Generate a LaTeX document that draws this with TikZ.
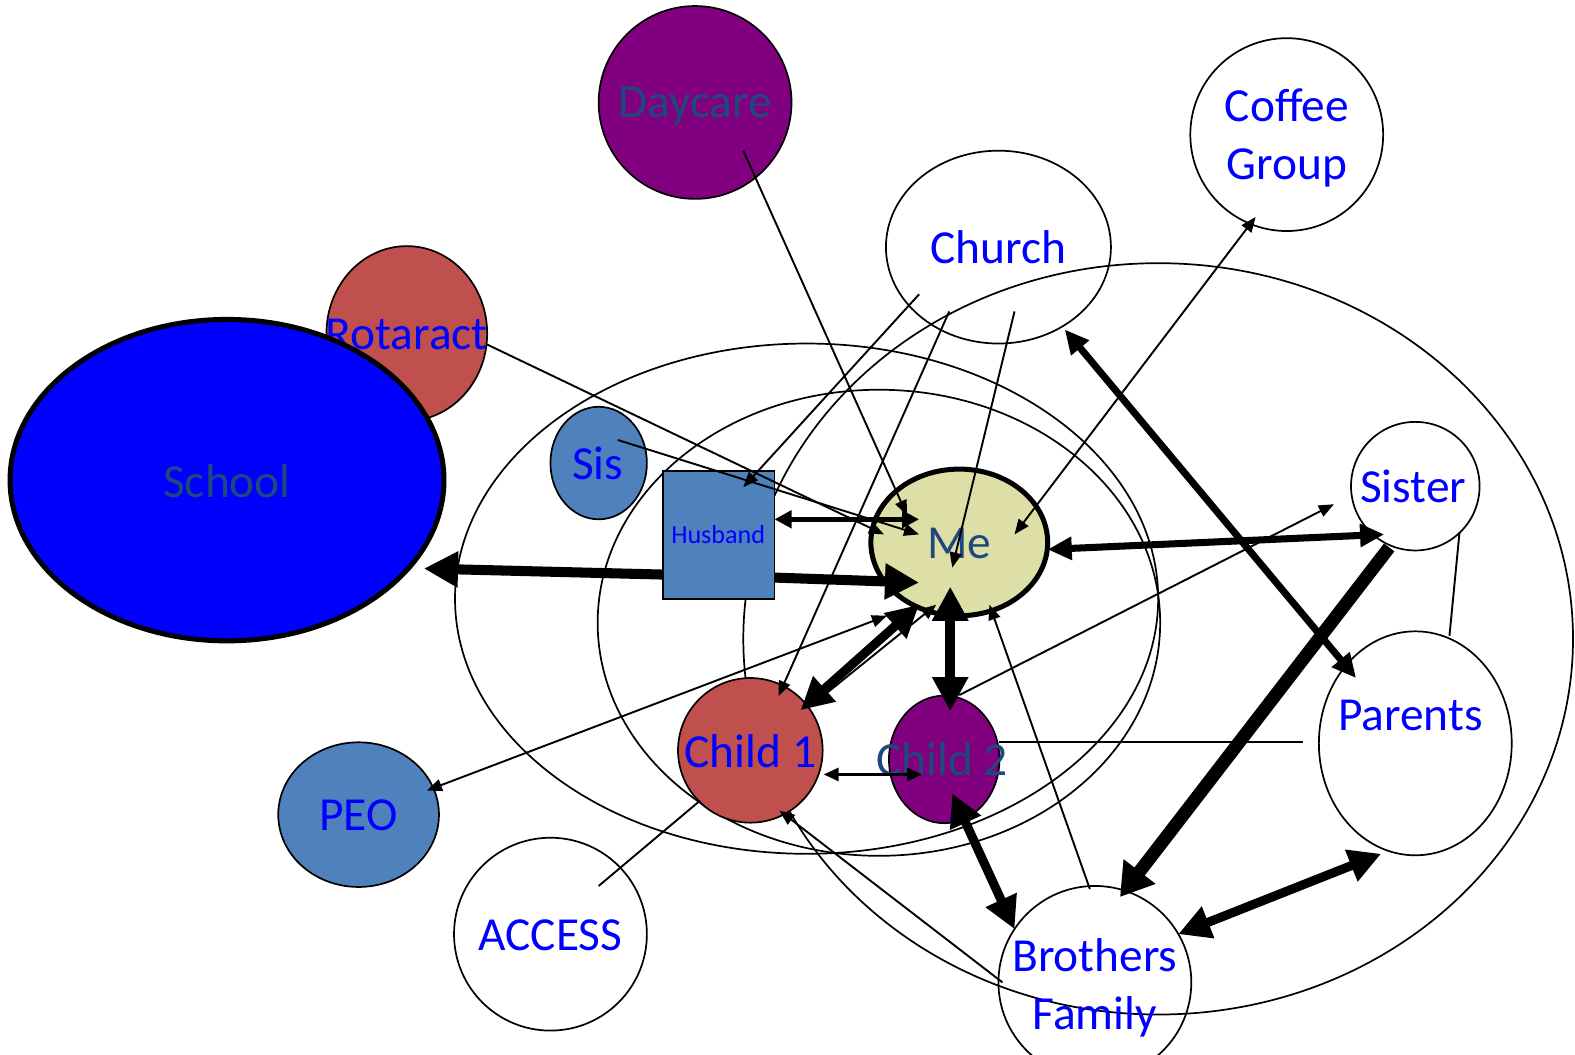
\documentclass[tikz,border=0pt]{standalone}
\usepackage{fontspec}
\setmainfont{Carlito}
\usetikzlibrary{shapes.geometric,arrows.meta,calc}
\definecolor{tblue}{RGB}{0,0,255}
\definecolor{tdark}{RGB}{31,73,125}
\definecolor{cpurple}{RGB}{128,0,128}
\definecolor{cred}{RGB}{192,80,77}
\definecolor{csteel}{RGB}{79,129,189}
\definecolor{cme}{RGB}{221,223,166}
\begin{document}
\begin{tikzpicture}[x=0.5pt,y=-0.5pt,
  ent/.style={ellipse,draw=black,line width=0.85pt,inner sep=0pt,outer sep=0pt},
  lbl/.style={font=\fontsize{23.6}{29}\selectfont,text=tblue,anchor=base,inner sep=0pt,align=center},
  dlbl/.style={lbl,text=tdark},
  ring/.style={draw=black,line width=0.85pt},
  lnA/.style={line width=0.95pt,>={Triangle[length=7.5pt,width=6pt]}},
  lnB/.style={line width=2.2pt,>={Triangle[length=8.5pt,width=8.5pt]}},
  lnC/.style={line width=1.5pt,>={Triangle[length=7.5pt,width=6.5pt]}},
  lnD/.style={line width=3.5pt,>={Triangle[length=12pt,width=11pt]}},
  lnE/.style={line width=4.5pt,>={Triangle[length=16pt,width=16pt]}},
  lnF/.style={line width=5pt,>={Triangle[length=17pt,width=17pt]}},
  lnG/.style={line width=6.5pt,>={Triangle[length=16pt,width=19pt]}}
]
\fill[white] (0,0) rectangle (1568,1050);
\useasboundingbox (0,0) rectangle (1568,1050);

% rings
\draw[ring] (803,596) ellipse [x radius=175pt, y radius=127pt];
\draw[ring] (875,620) ellipse [x radius=140pt, y radius=116pt];
\draw[ring] (1153,636) ellipse [x radius=206.5pt, y radius=187pt];

% entities
\node[ent,fill=cpurple,minimum width=96pt,minimum height=96pt] (daycare) at (692,102) {};
\node[dlbl] (daycare-t) at (692,117) {Daycare};
\node[ent,minimum width=96pt,minimum height=96pt] (coffee) at (1281,134) {};
\node[lbl] (coffee-t) at (1281,179) {Coffee\\Group};
\node[ent,minimum width=112pt,minimum height=96pt] (church) at (994,246) {};
\node[lbl] (church-t) at (994,262) {Church};
\node[ent,fill=cred,minimum width=80pt,minimum height=87pt] (rotaract) at (405,332) {};
\node[lbl] (rotaract-t) at (405,348) {Rotaract};
\node[ent,fill=blue,line width=2.5pt,minimum width=216pt,minimum height=160pt] (school) at (226,478) {};
\node[dlbl] (school-t) at (226,495) {School};
\node[ent,fill=csteel,minimum width=48pt,minimum height=56pt] (sis) at (596,461) {};
\node[lbl] (sis-t) at (595,477) {Sis};
\node[draw=black,line width=0.85pt,fill=csteel,minimum width=55.5pt,minimum height=63.5pt,inner sep=0pt,outer sep=0pt] (husband) at (715.5,532.5) {};
\node[lbl,font=\fontsize{13}{15}\selectfont] (husband-t) at (715,541) {Husband};
\node[ent,fill=cme,line width=2.5pt,minimum width=88pt,minimum height=73pt] (me) at (955,540) {};
\node[dlbl] (me-t) at (955,556) {Me};
\node[ent,minimum width=64pt,minimum height=64pt] (sister) at (1409,484) {};
\node[lbl] (sister-t) at (1407,500) {Sister};
\node[ent,minimum width=96pt,minimum height=111.5pt] (parents) at (1409,740) {};
\node[lbl] (parents-t) at (1404,727) {Parents};
\node[ent,fill=cred,minimum width=72pt,minimum height=72pt] (child1) at (747,747) {};
\node[lbl] (child1-t) at (747,764) {Child 1};
\node[ent,fill=cpurple,minimum width=55pt,minimum height=63.5pt] (child2) at (940,756) {};
\node[dlbl] (child2-t) at (938,772) {Child 2};
\node[ent,fill=csteel,minimum width=80pt,minimum height=72pt] (peo) at (357,811) {};
\node[lbl] (peo-t) at (357,827) {PEO};
\node[ent,minimum width=96pt,minimum height=96pt] (access) at (548,930) {};
\node[lbl] (access-t) at (548,946) {ACCESS};
\node[ent,minimum width=96pt,minimum height=96pt] (brothers) at (1090,978) {};
\node[lbl] (brothers-t) at (1090,1025) {Brothers\\Family};

% connectors
\draw[lnA,->] ($(daycare)+(48,48)$) -- ($(me)+(-52,-27)$);
\draw[lnA,->] ($(rotaract)+(80,11)$) -- ($(me)+(-75,-8)$);
\draw[lnA,->] ($(sis)+(19,-23)$) -- ($(me)+(-40,-8)$);
\draw[lnB,<->] ($(husband)+(55.5,-15.5)$) -- ($(me)+(-40,-23)$);
\draw[lnF,->] ($(husband)+(-55.5,39.5)$) -- ($(school)+(196,88)$);
\draw[lnF,->] ($(husband)+(55.5,42.5)$) -- ($(me)+(-40,40)$);
\draw[lnA,->] ($(church)+(-79,47)$) -- ($(husband)+(24.5,-47.5)$);
\draw[lnA,->] ($(church)+(-49,64)$) -- ($(child1)+(28,-54)$);
\draw[lnA,->] ($(church)+(16,64)$) -- ($(me)+(-7,25)$);
\draw[lnA,<->] ($(me)+(55,-8)$) -- ($(coffee)+(-31,82)$);
\draw[lnD,<->] ($(church)+(66,82)$) -- ($(parents)+(-59,-65)$);
\draw[lnD,<->] ($(me)+(88,7)$) -- ($(sister)+(-31,48)$);
\draw[lnA,->] ($(child2)+(15,-64)$) -- ($(sister)+(-81,18)$);
\draw[lnG,->] ($(sister)+(-26,61)$) -- ($(brothers)+(25,-85)$);
\draw[lnA] ($(sister)+(44,46)$) -- ($(parents)+(34,-107)$);
\draw[lnA] ($(child2)+(55,-17)$) -- ($(parents)+(-112,-1)$);
\draw[lnF,<->] ($(me)+(-9,44)$) -- ($(child2)+(6,-48)$);
\draw[lnE,<->] ($(child1)+(50,-40)$) -- ($(me)+(-40,62)$);
\draw[lnA,->] ($(child1)+(76,-57)$) -- ($(me)+(-23,62)$);
\draw[lnA,<->] ($(me)+(-72,73)$) -- ($(peo)+(68,-24)$);
\draw[lnC,<->] ($(child1)+(73,24)$) -- ($(child2)+(-22,15)$);
\draw[lnE,<->] ($(child2)+(8,34)$) -- ($(brothers)+(-80,-53)$);
\draw[lnE,<->] ($(brothers)+(83,-48)$) -- ($(parents)+(-34,110)$);
\draw[lnA,->] ($(brothers)+(-5,-93)$) -- ($(me)+(30,62)$);
\draw[lnA,->] ($(brothers)+(-92,0)$) -- ($(child1)+(29,60)$);
\draw[lnA] ($(access)+(48,-48)$) -- ($(child1)+(-50,50)$);
\end{tikzpicture}
\end{document}
